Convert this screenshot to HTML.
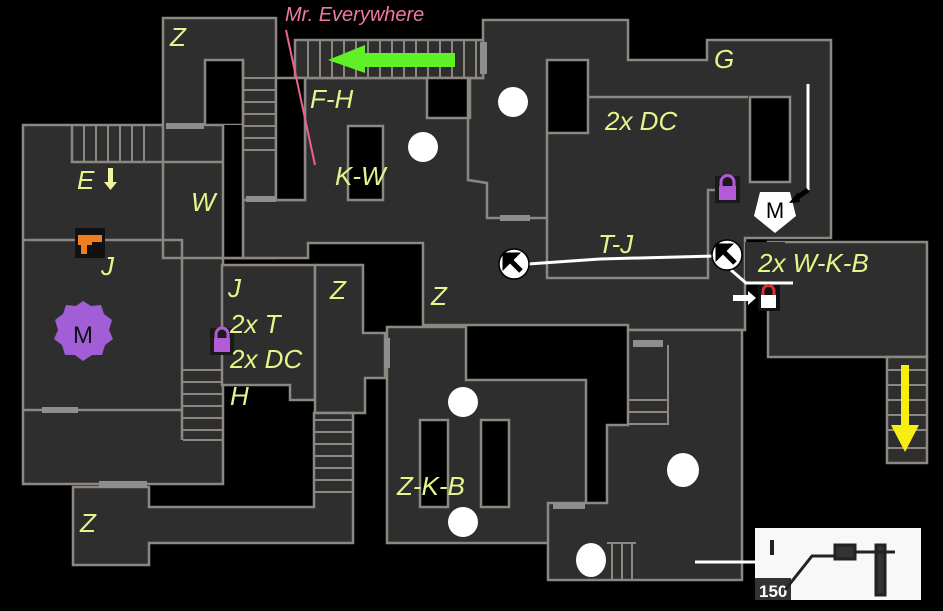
<!DOCTYPE html>
<html><head><meta charset="utf-8"><style>
html,body{margin:0;padding:0;background:#000;}
svg{display:block}
.l{font-family:"Liberation Sans",sans-serif;font-style:italic;font-size:26px;fill:#e4f58a;}
</style></head><body>
<svg width="943" height="611" viewBox="0 0 943 611" xmlns="http://www.w3.org/2000/svg">
<rect width="943" height="611" fill="#000"/>
<g fill="#2f2e2e" stroke="#8d8781" stroke-width="2.5">
<rect x="23" y="125" width="200" height="359"/>
<rect x="163" y="18" width="113" height="240"/>
<polygon points="243,200 305,200 305,78 483,78 483,20 628,20 628,60 707,60 707,40 831,40 831,238 745,238 745,330 628,330 628,325 423,325 423,243 308,243 308,258 243,258"/>
<rect x="295" y="40" width="188" height="38"/>
<rect x="768" y="242" width="159" height="115"/>
<rect x="745" y="242" width="40" height="40" stroke="none"/>
<rect x="887" y="357" width="40" height="106"/>
<polygon points="222,265 315,265 315,400 290,400 290,385 222,385"/>
<polygon points="315,265 363,265 363,333 385,333 385,378 365,378 365,413 315,413"/>
<polygon points="387,327 466,327 466,380 586,380 586,543 387,543"/>
<polygon points="628,330 742,330 742,580 548,580 548,503 607,503 607,425 628,425"/>
<polygon points="73,487 149,487 149,507 314,507 314,413 353,413 353,543 149,543 149,565 73,565"/>
</g>
<g fill="#000" stroke="#8d8781" stroke-width="2.5">
<rect x="205" y="60" width="38" height="65"/>
<rect x="223" y="125" width="20" height="133" stroke="none"/>
<rect x="276" y="78" width="29" height="122"/>
<rect x="427" y="78" width="43" height="40"/>
<rect x="348" y="126" width="35" height="74"/>
<rect x="547" y="60" width="41" height="73"/>
<rect x="750" y="97" width="40" height="85"/>
<rect x="420" y="420" width="28" height="87"/>
<rect x="481" y="420" width="28" height="87"/>
</g>
<g stroke="#8d8781" stroke-width="2.5" fill="none">
<polyline points="23,240 182,240 182,440"/>
<line x1="23" y1="410" x2="182" y2="410"/>
<polyline points="72,125 72,162 222,162"/>
<polyline points="588,97 748,97"/>
<polyline points="547,133 547,278 708,278 708,190 727,190"/>
<polyline points="468,78 468,180 487,183 487,218 547,218"/>
<line x1="223" y1="125" x2="223" y2="258"/>
<line x1="243" y1="60" x2="243" y2="258"/>
<line x1="223" y1="258" x2="243" y2="258"/>
</g>
<g stroke="#8d8781" stroke-width="2">
<path d="M84,125V162M96,125V162M108,125V162M120,125V162M132,125V162M144,125V162"/>
<path d="M243,78H276M243,90H276M243,102H276M243,114H276M243,126H276M243,138H276M243,150H276"/>
<path d="M308,40V78M320,40V78M332,40V78M344,40V78M356,40V78M368,40V78M380,40V78M392,40V78M404,40V78M416,40V78M428,40V78M440,40V78M452,40V78M464,40V78M476,40V78"/>
<path d="M183,370H222M183,382H222M183,394H222M183,406H222M183,418H222M183,430H222M183,440H222"/>
<path d="M314,420H353M314,432H353M314,444H353M314,456H353M314,468H353M314,480H353M314,492H353"/>
<path d="M628,400H668M628,412H668M628,424H668M668,345V425"/>
<path d="M887,370H927M887,385H927M887,400H927M887,415H927M887,430H927M887,448H927"/>
<path d="M612,543V580M622,543V580M632,543V580M607,543H636"/>
</g>
<g fill="#8e8e8e">
<rect x="166" y="123" width="38" height="6"/>
<rect x="246" y="196" width="30" height="6"/>
<rect x="480" y="42" width="7" height="32"/>
<rect x="500" y="215" width="30" height="6"/>
<rect x="42" y="407" width="36" height="6"/>
<rect x="99" y="481" width="48" height="7"/>
<rect x="384" y="338" width="6" height="30"/>
<rect x="633" y="340" width="30" height="7"/>
<rect x="553" y="502" width="32" height="7"/>
</g>
<g fill="#fff">
<circle cx="513" cy="102" r="15"/><circle cx="423" cy="147" r="15"/>
<circle cx="463" cy="402" r="15"/><circle cx="463" cy="522" r="15"/>
<ellipse cx="683" cy="470" rx="16" ry="17"/><ellipse cx="591" cy="560" rx="15" ry="17"/>
</g>
<g stroke="#fff" stroke-width="3" fill="none">
<polyline points="528,264 600,259 715,256"/>
<line x1="808" y1="84" x2="808" y2="190"/>
<polyline points="731,270 746,283 793,283"/>
<line x1="695" y1="562" x2="755" y2="562"/>
</g>
<g>
<circle cx="514" cy="264" r="15" fill="#fff" stroke="#000" stroke-width="1.5"/>
<path d="M521,271 L510,260 M505,255 l10,0 l-10,10z" stroke="#000" stroke-width="5" fill="#000"/>
<circle cx="727" cy="255" r="15" fill="#fff" stroke="#000" stroke-width="1.5"/>
<path d="M735,263 L724,252 M718,246 l10,0 l-10,10z" stroke="#000" stroke-width="5" fill="#000"/>
</g>
<polygon points="760,192 790,192 796,216 775,233 754,216" fill="#fff"/>
<text x="775" y="218" text-anchor="middle" font-family="Liberation Sans,sans-serif" font-size="22" fill="#000">M</text>
<path d="M808,190 L795,199" stroke="#000" stroke-width="5"/><polygon points="789,203 798,192 800,202" fill="#000"/>
<rect x="715" y="176" width="25" height="27" fill="#1a1a1a"/>
<rect x="719" y="186" width="17" height="14" fill="#b35ad6"/><path d="M721,186v-4a6,6 0 0 1 13,0v4" stroke="#b35ad6" stroke-width="3" fill="none"/>
<rect x="210" y="328" width="24" height="27" fill="#1a1a1a"/>
<rect x="214" y="338" width="16" height="14" fill="#b35ad6"/><path d="M216,338v-4a6,6 0 0 1 12,0v4" stroke="#b35ad6" stroke-width="3" fill="none"/>
<rect x="758" y="285" width="22" height="26" fill="#111"/>
<rect x="761" y="295" width="15" height="13" fill="#fff"/><path d="M763,295v-4a5,5 0 0 1 11,0v4" stroke="#c33" stroke-width="3" fill="none"/>
<polygon points="733,295 748,295 748,291 756,298 748,305 748,301 733,301" fill="#fff"/>
<polygon points="455,53 365,53 365,45 328,60 365,73 365,67 455,67" fill="#5ff028"/>
<polygon points="901,365 909,365 909,425 919,425 905,452 891,425 901,425" fill="#f5ee10"/>
<polygon points="108,168 113,168 113,182 117,182 110.5,190 104,182 108,182" fill="#f1f5a0"/>
<text x="285" y="21" font-family="Liberation Sans,sans-serif" font-style="italic" font-size="20" fill="#ef7a9e">Mr. Everywhere</text>
<line x1="286" y1="30" x2="315" y2="165" stroke="#e8648e" stroke-width="2"/>
<rect x="75" y="228" width="30" height="30" fill="#111"/>
<path d="M78,235h24v7h-10v3h-5v9h-6v-9h-3z" fill="#f07d1e"/>
<polygon points="83,301 91,306 101,305 104,314 112,320 109,330 113,339 105,345 102,355 92,355 83,361 75,355 65,355 62,345 54,339 58,330 55,320 63,314 66,305 76,306" fill="#a15ed6"/>
<text x="83" y="343" text-anchor="middle" font-family="Liberation Sans,sans-serif" font-size="24" fill="#111">M</text>
<rect x="755" y="528" width="166" height="72" fill="#f8f8f8"/>
<rect x="755" y="578" width="36" height="22" fill="#333"/>
<text x="759" y="597" font-family="Liberation Sans,sans-serif" font-weight="bold" font-size="17" fill="#fff">150</text>
<g stroke="#222" stroke-width="3" fill="none"><path d="M785,590 L812,556 L840,556"/><rect x="835" y="545" width="20" height="14" fill="#333"/><rect x="876" y="545" width="9" height="50" fill="#333"/><path d="M855,552h40"/><path d="M772,540v15" stroke-width="4"/></g>
<g>
<text x="170" y="46" class="l">Z</text>
<text x="310" y="108" class="l">F-H</text>
<text x="335" y="185" class="l">K-W</text>
<text x="77" y="189" class="l">E</text>
<text x="191" y="211" class="l">W</text>
<text x="101" y="275" class="l">J</text>
<text x="228" y="297" class="l">J</text>
<text x="330" y="299" class="l">Z</text>
<text x="431" y="305" class="l">Z</text>
<text x="230" y="333" class="l">2x T</text>
<text x="230" y="368" class="l">2x DC</text>
<text x="230" y="405" class="l">H</text>
<text x="605" y="130" class="l">2x DC</text>
<text x="714" y="68" class="l">G</text>
<text x="598" y="253" class="l">T-J</text>
<text x="758" y="272" class="l">2x W-K-B</text>
<text x="397" y="495" class="l">Z-K-B</text>
<text x="80" y="532" class="l">Z</text>
</g>
</svg>
</body></html>
